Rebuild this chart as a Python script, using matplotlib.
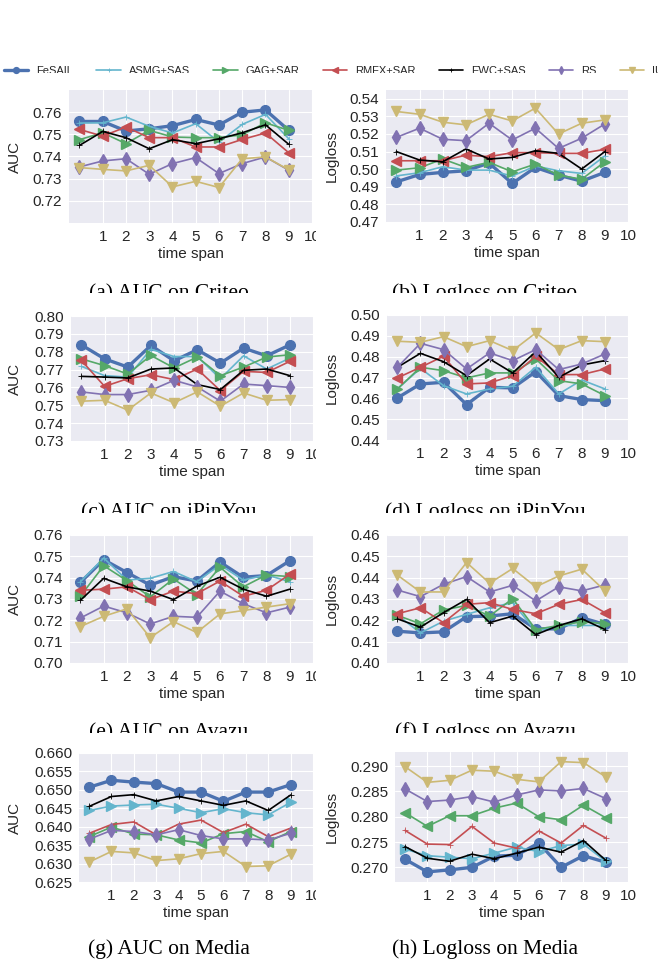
import matplotlib
matplotlib.use("Agg")
import matplotlib.pyplot as plt
from matplotlib.patches import Rectangle
import numpy as np

# methods and time spans shared by every panel
methods = ["FeSAIL", "ASMG+SAS", "GAG+SAR", "RMFX+SAR", "EWC+SAS", "RS", "IU"]
time_span = list(range(10))
xtick_vals = list(range(1, 11))

# one row per method, same order as `methods`
criteo_auc = [
    [0.7558, 0.7558, 0.7515, 0.7525, 0.7539, 0.7567, 0.7542, 0.7600, 0.7610, 0.7518],
    [0.7551, 0.7552, 0.7578, 0.7536, 0.7506, 0.7548, 0.7465, 0.7545, 0.7590, 0.7480],
    [0.7476, 0.7507, 0.7458, 0.7518, 0.7488, 0.7485, 0.7485, 0.7498, 0.7552, 0.7518],
    [0.7522, 0.7492, 0.7533, 0.7485, 0.7485, 0.7443, 0.7443, 0.7477, 0.7506, 0.7417],
    [0.7450, 0.7513, 0.7485, 0.7435, 0.7476, 0.7458, 0.7480, 0.7507, 0.7543, 0.7455],
    [0.7353, 0.7380, 0.7390, 0.7320, 0.7368, 0.7395, 0.7323, 0.7368, 0.7398, 0.7338],
    [0.7350, 0.7342, 0.7335, 0.7360, 0.7263, 0.7288, 0.7260, 0.7390, 0.7398, 0.7340],
]
criteo_logloss = [
    [0.4928, 0.4970, 0.4982, 0.4991, 0.5035, 0.4919, 0.5010, 0.4966, 0.4932, 0.4982],
    [0.4962, 0.4980, 0.5014, 0.4995, 0.4995, 0.4961, 0.5018, 0.4991, 0.4976, 0.5075],
    [0.4995, 0.5008, 0.5058, 0.5010, 0.5039, 0.4985, 0.5029, 0.4966, 0.4943, 0.5042],
    [0.5048, 0.5048, 0.5048, 0.5080, 0.5071, 0.5094, 0.5094, 0.5090, 0.5090, 0.5113],
    [0.5100, 0.5052, 0.5042, 0.5115, 0.5058, 0.5067, 0.5105, 0.5090, 0.5001, 0.5100],
    [0.5181, 0.5233, 0.5170, 0.5162, 0.5261, 0.5166, 0.5233, 0.5118, 0.5176, 0.5257],
    [0.5328, 0.5312, 0.5267, 0.5252, 0.5312, 0.5274, 0.5347, 0.5200, 0.5261, 0.5280],
]
ipinyou_auc = [
    [0.7838, 0.7760, 0.7714, 0.7835, 0.7749, 0.7811, 0.7736, 0.7820, 0.7777, 0.7838],
    [0.7718, 0.7666, 0.7658, 0.7814, 0.7773, 0.7773, 0.7649, 0.7777, 0.7703, 0.7764],
    [0.7760, 0.7722, 0.7675, 0.7779, 0.7709, 0.7770, 0.7666, 0.7714, 0.7770, 0.7783],
    [0.7751, 0.7606, 0.7649, 0.7671, 0.7644, 0.7703, 0.7582, 0.7690, 0.7684, 0.7746],
    [0.7662, 0.7658, 0.7653, 0.7703, 0.7709, 0.7616, 0.7588, 0.7696, 0.7703, 0.7666],
    [0.7575, 0.7560, 0.7560, 0.7584, 0.7640, 0.7603, 0.7523, 0.7619, 0.7610, 0.7600],
    [0.7523, 0.7528, 0.7473, 0.7569, 0.7514, 0.7575, 0.7495, 0.7569, 0.7528, 0.7532],
]
ipinyou_logloss = [
    [0.4602, 0.4669, 0.4677, 0.4570, 0.4653, 0.4650, 0.4728, 0.4613, 0.4594, 0.4589],
    [0.4645, 0.4744, 0.4661, 0.4621, 0.4645, 0.4658, 0.4749, 0.4621, 0.4688, 0.4645],
    [0.4645, 0.4749, 0.4733, 0.4698, 0.4722, 0.4722, 0.4789, 0.4685, 0.4669, 0.4613],
    [0.4698, 0.4749, 0.4802, 0.4669, 0.4674, 0.4709, 0.4802, 0.4714, 0.4714, 0.4741],
    [0.4749, 0.4816, 0.4776, 0.4709, 0.4789, 0.4722, 0.4824, 0.4701, 0.4760, 0.4781],
    [0.4749, 0.4864, 0.4834, 0.4741, 0.4818, 0.4781, 0.4834, 0.4738, 0.4765, 0.4813],
    [0.4874, 0.4869, 0.4896, 0.4848, 0.4877, 0.4829, 0.4914, 0.4834, 0.4877, 0.4872],
]
avazu_auc = [
    [0.7378, 0.7484, 0.7424, 0.7365, 0.7405, 0.7384, 0.7473, 0.7402, 0.7410, 0.7479],
    [0.7381, 0.7492, 0.7389, 0.7397, 0.7429, 0.7381, 0.7460, 0.7389, 0.7413, 0.7381],
    [0.7314, 0.7456, 0.7386, 0.7310, 0.7394, 0.7321, 0.7449, 0.7357, 0.7413, 0.7405],
    [0.7341, 0.7346, 0.7357, 0.7297, 0.7337, 0.7325, 0.7384, 0.7313, 0.7341, 0.7416],
    [0.7294, 0.7397, 0.7357, 0.7337, 0.7297, 0.7360, 0.7402, 0.7346, 0.7313, 0.7346],
    [0.7211, 0.7267, 0.7235, 0.7183, 0.7219, 0.7214, 0.7337, 0.7278, 0.7235, 0.7262],
    [0.7171, 0.7219, 0.7254, 0.7119, 0.7194, 0.7143, 0.7230, 0.7246, 0.7262, 0.7278],
]
avazu_logloss = [
    [0.4149, 0.4141, 0.4146, 0.4217, 0.4220, 0.4231, 0.4160, 0.4160, 0.4212, 0.4181],
    [0.4225, 0.4141, 0.4196, 0.4228, 0.4259, 0.4283, 0.4149, 0.4176, 0.4176, 0.4176],
    [0.4223, 0.4184, 0.4248, 0.4270, 0.4220, 0.4302, 0.4157, 0.4176, 0.4193, 0.4185],
    [0.4231, 0.4259, 0.4189, 0.4275, 0.4283, 0.4251, 0.4231, 0.4275, 0.4298, 0.4236],
    [0.4207, 0.4168, 0.4236, 0.4298, 0.4189, 0.4220, 0.4133, 0.4176, 0.4207, 0.4157],
    [0.4342, 0.4311, 0.4369, 0.4405, 0.4333, 0.4364, 0.4291, 0.4357, 0.4338, 0.4366],
    [0.4412, 0.4333, 0.4333, 0.4471, 0.4374, 0.4443, 0.4357, 0.4408, 0.4440, 0.4338],
]
media_auc = [
    [0.6507, 0.6526, 0.6521, 0.6517, 0.6494, 0.6494, 0.6469, 0.6494, 0.6494, 0.6514],
    [0.6444, 0.6456, 0.6459, 0.6461, 0.6450, 0.6438, 0.6449, 0.6438, 0.6432, 0.6466],
    [0.6373, 0.6399, 0.6380, 0.6378, 0.6364, 0.6356, 0.6381, 0.6387, 0.6359, 0.6387],
    [0.6382, 0.6406, 0.6413, 0.6378, 0.6407, 0.6418, 0.6384, 0.6407, 0.6373, 0.6396],
    [0.6455, 0.6482, 0.6487, 0.6470, 0.6482, 0.6470, 0.6458, 0.6470, 0.6444, 0.6486],
    [0.6366, 0.6390, 0.6387, 0.6378, 0.6392, 0.6376, 0.6367, 0.6367, 0.6364, 0.6382],
    [0.6304, 0.6333, 0.6329, 0.6308, 0.6313, 0.6327, 0.6333, 0.6292, 0.6294, 0.6325],
]
media_logloss = [
    [0.2716, 0.2691, 0.2695, 0.2700, 0.2722, 0.2724, 0.2748, 0.2700, 0.2723, 0.2710],
    [0.2736, 0.2723, 0.2720, 0.2717, 0.2728, 0.2740, 0.2731, 0.2743, 0.2746, 0.2712],
    [0.2808, 0.2781, 0.2802, 0.2802, 0.2817, 0.2827, 0.2800, 0.2794, 0.2823, 0.2798],
    [0.2773, 0.2746, 0.2745, 0.2781, 0.2748, 0.2738, 0.2772, 0.2748, 0.2783, 0.2758],
    [0.2741, 0.2718, 0.2712, 0.2726, 0.2717, 0.2728, 0.2740, 0.2730, 0.2753, 0.2714],
    [0.2855, 0.2830, 0.2833, 0.2840, 0.2829, 0.2843, 0.2853, 0.2851, 0.2856, 0.2836],
    [0.2899, 0.2868, 0.2872, 0.2892, 0.2890, 0.2874, 0.2869, 0.2909, 0.2907, 0.2879],
]

captions = ["(a) AUC on Criteo", "(b) Logloss on Criteo",
            "(c) AUC on iPinYou", "(d) Logloss on iPinYou",
            "(e) AUC on Avazu", "(f) Logloss on Avazu",
            "(g) AUC on Media", "(h) Logloss on Media"]

plt.style.use("seaborn-v0_8-darkgrid")
plt.rcParams["font.family"] = ["Liberation Sans", "DejaVu Sans"]
plt.rcParams["text.color"] = "#262626"
plt.rcParams["axes.labelcolor"] = "#262626"
plt.rcParams["xtick.color"] = "#262626"
plt.rcParams["ytick.color"] = "#262626"

colors = ["#4C72B0", "#64B5CD", "#55A868", "#C44E52", "black", "#8172B2", "#CCB974"]
markers_std = ["o", "+", ">", "<", "+", "d", "v"]
markers_media = ["o", ">", "<", "+", "+", "d", "v"]
msizes = {"o": 7, "+": 4, ">": 6.5, "<": 6.5, "d": 7, "v": 7}

W, H = 658, 961
fig = plt.figure(figsize=(W / 100, H / 100), dpi=100)


def px_axes(l, t, r, b):
    return fig.add_axes([l / W, 1 - b / H, (r - l) / W, (b - t) / H])


# panel boxes in pixels: left, top, right, bottom
panels = [
    (criteo_auc, (69, 90, 312, 223), (0.71, 0.77), np.arange(0.72, 0.765, 0.01), "AUC", "%.2f"),
    (criteo_logloss, (386, 90, 628, 222), (0.47, 0.545), np.arange(0.47, 0.545, 0.01), "Logloss", "%.2f"),
    (ipinyou_auc, (71, 316, 313, 441), (0.73, 0.80), np.arange(0.73, 0.805, 0.01), "AUC", "%.2f"),
    (ipinyou_logloss, (387, 315, 628, 440), (0.44, 0.50), np.arange(0.44, 0.505, 0.01), "Logloss", "%.2f"),
    (avazu_auc, (70, 535, 313, 663), (0.70, 0.76), np.arange(0.70, 0.765, 0.01), "AUC", "%.2f"),
    (avazu_logloss, (387, 535, 628, 663), (0.40, 0.46), np.arange(0.40, 0.465, 0.01), "Logloss", "%.2f"),
    (media_auc, (79, 753, 313, 882), (0.625, 0.660), np.arange(0.625, 0.6626, 0.005), "AUC", "%.3f"),
    (media_logloss, (395, 752, 628, 882), (0.2671, 0.2928), np.arange(0.270, 0.2926, 0.005), "Logloss", "%.3f"),
]

# every sub-figure is a cropped picture: left column cut at x=316, captions cut per row
left_clip = Rectangle((0, 0), 316 / W, 1, transform=fig.transFigure)
caption_base = [298, 517, 737, 954]
caption_cut = [293, 513, 733, None]

axes = []
for i, (data, box, ylim, yticks, ylabel, fmt) in enumerate(panels):
    ax = px_axes(*box)
    marks = markers_media if i >= 6 else markers_std
    for k, name in enumerate(methods):
        lw = 2.4 if k == 0 else 1.2
        mew = 0.6 if marks[k] == "+" else 1
        ax.plot(time_span, data[k], color=colors[k], marker=marks[k], lw=lw,
                ms=msizes[marks[k]], mew=mew, label=name)
    ax.set_xlim(-0.45, 10)
    ax.set_xticks(xtick_vals)
    ax.set_ylim(*ylim)
    ax.set_yticks(yticks)
    ax.set_yticklabels([fmt % v for v in yticks])
    ax.tick_params(labelsize=11, length=0, pad=5)
    ax.set_xlabel("time span", fontsize=11, labelpad=2)
    ax.set_ylabel(ylabel, fontsize=11)
    left, top, right, bottom = box
    ylab_x = 22 if i % 2 == 0 else 339
    ax.yaxis.set_label_coords((ylab_x - left) / (right - left), 0.5)
    if i % 2 == 0:
        for t in ax.get_xticklabels():
            t.set_clip_path(left_clip)

    row = i // 2
    cx = 169 if i % 2 == 0 else 485
    cap = fig.text(cx / W, 1 - caption_base[row] / H, captions[i], ha="center",
                   va="baseline", fontsize=15.5, color="black",
                   family=["Liberation Serif", "DejaVu Serif"])
    if caption_cut[row] is not None:
        cap.set_clip_path(Rectangle((0, 1 - caption_cut[row] / H), 1, 1,
                                    transform=fig.transFigure))
    axes.append(ax)

# shared legend strip along the top, its lower edge cut off
handles, labels = axes[0].get_legend_handles_labels()
leg = fig.legend(handles, labels, loc="center left", bbox_to_anchor=(4 / W, 1 - 71 / H),
                 ncol=7, frameon=False, fontsize=8, handlelength=2.2, handletextpad=0.7,
                 columnspacing=2.1, borderpad=0, borderaxespad=0, markerscale=0.6)
leg_clip = Rectangle((0, 1 - 73 / H), 1, 1, transform=fig.transFigure)
for t in leg.get_texts():
    t.set_clip_path(leg_clip)

fig.savefig("out.png", dpi=100)
